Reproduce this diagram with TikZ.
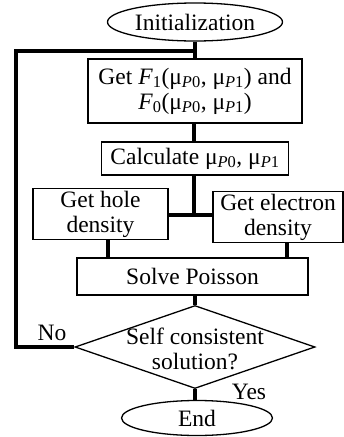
\documentclass[tikz,border=0pt]{standalone}
\usepackage{fontspec}
\setmainfont{Liberation Serif}
\usetikzlibrary{shapes.geometric,calc}
\newcommand{\muP}[1]{μ\textsubscript{\textit{P}#1}}

\begin{document}
\begin{tikzpicture}[
  x=1pt, y=-1pt,
  font=\fontsize{23.5}{25}\selectfont,
  box/.style={rectangle, draw, line width=1.3pt, align=center, inner sep=2pt},
  term/.style={ellipse, draw, line width=1.3pt, inner sep=0pt},
  decision/.style={diamond, draw, line width=1.3pt, inner sep=0pt},
  flow/.style={line width=4pt},
  tag/.style={inner sep=0pt},
]
\useasboundingbox (0,0) rectangle (344,437);

% === SELF-CONSISTENT LOOP ===
\node[term, minimum width=175pt, minimum height=38pt] (init) at (195,22) {Initialization};
\node[box, minimum width=214pt, minimum height=64pt] (getf) at (195,91)
  {Get \textit{F}\textsubscript{1}(\muP{0}, \muP{1}) and\\\textit{F}\textsubscript{0}(\muP{0}, \muP{1})};
\node[box, minimum width=187pt, minimum height=33pt] (calc) at (195,158.5) {Calculate \muP{0}, \muP{1}};
\node[box, minimum width=135pt, minimum height=50pt] (hole) at (100.5,214) {Get hole\\density};
\node[box, minimum width=130pt, minimum height=50pt] (elec) at (278,217) {Get electron\\density};
\node[box, minimum width=231pt, minimum height=37pt] (solve) at (192.5,276.5) {Solve Poisson};
\node[decision, minimum width=240pt, minimum height=83pt] (conv) at (195,347) {};
\node[align=center, tag] (convtext) at (195,349) {Self consistent\\solution?};
\node[term, minimum width=151pt, minimum height=35pt] (end) at (197,418) {End};

\coordinate (jn) at (194,215);
\coordinate (loop) at (15.5,50.5);
\coordinate (top) at (195,50.5);

\draw[flow] (init.south) -- (getf.north);
\draw[flow] ([xshift=-1pt]getf.south) -- ([xshift=-1pt]calc.north);
\draw[flow] ([xshift=-1pt]calc.south) -- (jn);
\draw[flow] (hole.east |- jn) -- (elec.west |- jn);
\draw[flow] ([xshift=7pt]hole.south) -- ([xshift=7pt]hole.south |- solve.north);
\draw[flow] ([xshift=9pt]elec.south) -- ([xshift=9pt]elec.south |- solve.north);
\draw[flow] (solve.south -| conv.north) -- (conv.north);
\draw[flow] (conv.south) -- (conv.south |- end.north);
\draw[flow] (conv.west) -| (loop) -- (top);

\node[tag] (no) at (52,333) {No};
\node[tag] (yes) at (249,392) {Yes};
\end{tikzpicture}
\end{document}
